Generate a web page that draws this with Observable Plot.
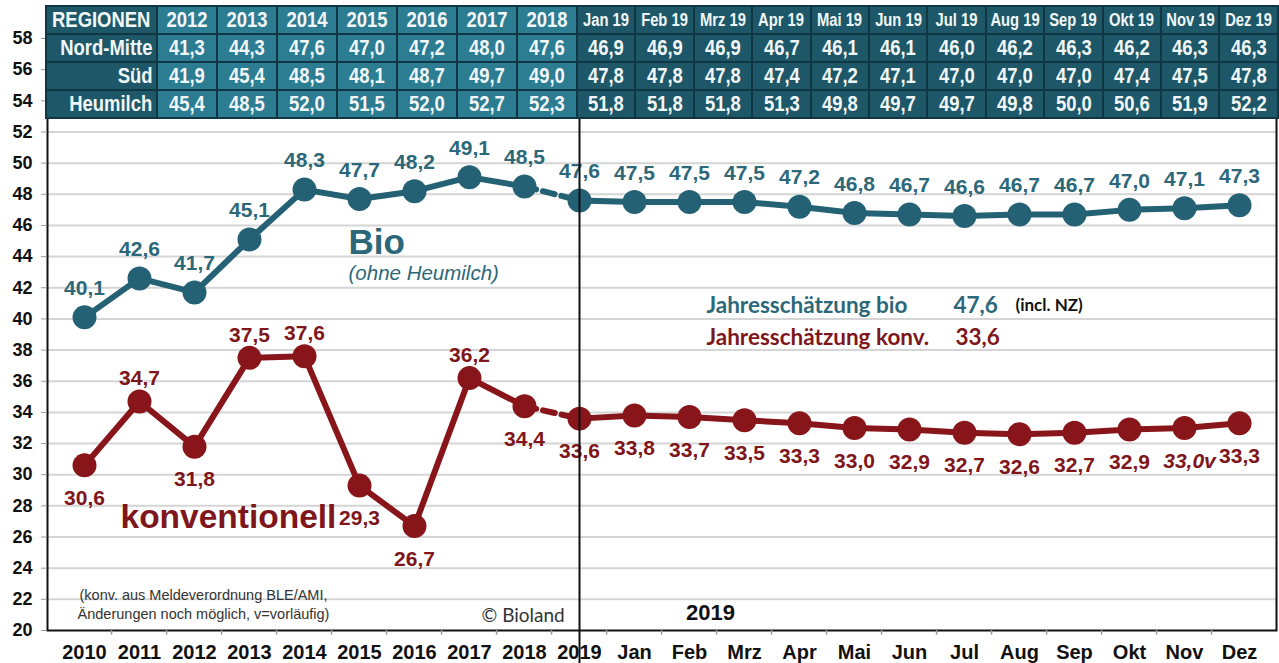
<!DOCTYPE html>
<html>
<head>
<meta charset="utf-8">
<script src="https://cdn.jsdelivr.net/npm/d3@7"></script>
<script src="https://cdn.jsdelivr.net/npm/@observablehq/plot@0.6"></script>
<style>
  body { margin: 0; background: #fff; }
  #wrap { position: relative; width: 1279px; height: 663px; overflow: hidden; background: #fff; }
  #chart { position: absolute; left: 0; top: 0; }
  #tbl { position: absolute; left: 45px; top: 5px; width: 1232px; height: 112px;
         border-collapse: collapse; table-layout: fixed;
         font-family: "Liberation Sans", Arial, sans-serif;
         font-weight: bold; color: #f1f7f9; z-index: 2; }
  #tbl td { border: 2px solid #0f3642; padding: 0; font-size: 22.5px; line-height: 1; white-space: nowrap; }
  #tbl tr { height: 28px; }
  #tbl td.dark { background: #1e5868; }
  #tbl td.light { background: #2c7c92; }
  #tbl td.mon { font-size: 18px; }
  #tbl .cell { display: flex; justify-content: center; align-items: center; overflow: visible; }
  #tbl .cell span { display: inline-block; flex-shrink: 0; transform: scaleX(0.82); transform-origin: center; }
  #tbl td.lab .cell { justify-content: flex-end; padding-right: 4px; }
  #tbl td.lab .cell span { transform-origin: right center; }
  #tbl td.head0 .cell { justify-content: flex-start; padding-left: 5px; }
  #tbl td.head0 .cell span { transform-origin: left center; }
</style>
</head>
<body>
<div id="wrap">
  <div id="chart"></div>
  <table id="tbl"></table>
</div>
<script>
// ---------- data ----------
const categories = ["2010","2011","2012","2013","2014","2015","2016","2017","2018","2019",
  "Jan","Feb","Mrz","Apr","Mai","Jun","Jul","Aug","Sep","Okt","Nov","Dez"];
const bioValues = [40.1,42.6,41.7,45.1,48.3,47.7,48.2,49.1,48.5,47.6,
  47.5,47.5,47.5,47.2,46.8,46.7,46.6,46.7,46.7,47.0,47.1,47.3];
const konvValues = [30.6,34.7,31.8,37.5,37.6,29.3,26.7,36.2,34.4,33.6,
  33.8,33.7,33.5,33.3,33.0,32.9,32.7,32.6,32.7,32.9,33.0,33.3];
const konvNotes = ["","","","","","","","","","",
  "","","","","","","","","","","v",""];

const tableHeader = "REGIONEN";
const tableYears = ["2012","2013","2014","2015","2016","2017","2018"];
const tableMonths = ["Jan 19","Feb 19","Mrz 19","Apr 19","Mai 19","Jun 19","Jul 19","Aug 19","Sep 19","Okt 19","Nov 19","Dez 19"];
const regions = ["Nord-Mitte","Süd","Heumilch"];
const nordMitte = [41.3,44.3,47.6,47.0,47.2,48.0,47.6,46.9,46.9,46.9,46.7,46.1,46.1,46.0,46.2,46.3,46.2,46.3,46.3];
const sued = [41.9,45.4,48.5,48.1,48.7,49.7,49.0,47.8,47.8,47.8,47.4,47.2,47.1,47.0,47.0,47.0,47.4,47.5,47.8];
const heumilch = [45.4,48.5,52.0,51.5,52.0,52.7,52.3,51.8,51.8,51.8,51.3,49.8,49.7,49.7,49.8,50.0,50.6,51.9,52.2];

const yTicks = d3.range(20, 59, 2);
const gridValues = d3.range(22, 59, 2);

// ---------- helpers ----------
const fmt = v => v.toFixed(1).replace(".", ",");
const BIO = "#246174", BIO_T = "#2c6879", KONV = "#871519", KONV_T = "#7e161b";
const W = 1279, H = 663, ML = 47, MR = 3, MT = 38, MB = 33;
const step = (W - ML - MR) / categories.length;
const rows = categories.map((c, i) => ({cat: c, bio: bioValues[i], konv: konvValues[i], note: konvNotes[i]}));
const seg1 = rows.slice(0, 9), seg2 = rows.slice(8, 10), seg3 = rows.slice(9);
const konvAbove = new Set(["2011", "2013", "2014", "2017"]);
const kAbove = rows.filter(d => konvAbove.has(d.cat));
const kBelow = rows.filter(d => !konvAbove.has(d.cat) && !d.note);
const kNote = rows.filter(d => d.note);
const bold = "bold";
const LATO = "Lato, sans-serif";

const chart = Plot.plot({
  width: W, height: H,
  marginLeft: ML, marginRight: MR, marginTop: MT, marginBottom: MB,
  style: {fontFamily: '"Liberation Sans", Arial, sans-serif', background: "transparent", overflow: "visible"},
  x: {type: "point", domain: categories, padding: 0.5, axis: null},
  y: {domain: [20, 58], axis: null},
  marks: [
    Plot.ruleY(gridValues, {stroke: "#d5d5d5", strokeWidth: 2}),
    Plot.frame({stroke: "#111", strokeWidth: 2}),
    Plot.axisY(yTicks, {anchor: "left", tickSize: 6, tickPadding: 9, stroke: "#999", fill: "#111", fontSize: 18, fontWeight: bold, label: null}),
    Plot.axisX({anchor: "bottom", tickSize: 0, tickPadding: 14, fill: "#111", fontSize: 20, fontWeight: bold, label: null}),
    Plot.ruleX(categories.slice(1), {x: d => d, y1: 20, y2: 19.7, dx: -step / 2, stroke: "#999", strokeWidth: 1.5}),
    // lines
    Plot.line(seg1, {x: "cat", y: "bio", stroke: BIO, strokeWidth: 6}),
    Plot.line(seg2, {x: "cat", y: "bio", stroke: BIO, strokeWidth: 6, strokeDasharray: "12,7"}),
    Plot.line(seg3, {x: "cat", y: "bio", stroke: BIO, strokeWidth: 6}),
    Plot.line(seg1, {x: "cat", y: "konv", stroke: KONV, strokeWidth: 6}),
    Plot.line(seg2, {x: "cat", y: "konv", stroke: KONV, strokeWidth: 6, strokeDasharray: "12,7"}),
    Plot.line(seg3, {x: "cat", y: "konv", stroke: KONV, strokeWidth: 6}),
    Plot.dot(rows, {x: "cat", y: "bio", r: 12, fill: BIO}),
    Plot.dot(rows, {x: "cat", y: "konv", r: 12, fill: KONV}),
    // value labels
    Plot.text(rows, {x: "cat", y: "bio", text: d => fmt(d.bio), dy: -29, fill: BIO_T, fontSize: 21, fontWeight: bold}),
    Plot.text(kAbove, {x: "cat", y: "konv", text: d => fmt(d.konv), dy: -23, fill: KONV_T, fontSize: 21, fontWeight: bold}),
    Plot.text(kBelow, {x: "cat", y: "konv", text: d => fmt(d.konv), dy: 33, fill: KONV_T, fontSize: 21, fontWeight: bold}),
    Plot.text(kNote, {x: "cat", y: "konv", text: d => fmt(d.konv) + d.note, dy: 33, dx: 5, fill: KONV_T, fontSize: 21, fontWeight: bold, fontStyle: "italic"}),
    // 2019 separator
    Plot.ruleX(["2019"], {stroke: "#111", strokeWidth: 2, insetBottom: -MB}),
    // annotations
    Plot.text(["Bio"], {x: () => "2015", y: () => 44.9, text: d => d, dx: -11, textAnchor: "start", fill: BIO_T, fontSize: 35, fontWeight: bold}),
    Plot.text(["(ohne Heumilch)"], {x: () => "2015", y: () => 42.9, text: d => d, dx: -11, textAnchor: "start", fill: BIO_T, fontSize: 20.5, fontStyle: "italic"}),
    Plot.text(["konventionell"], {x: () => "2011", y: () => 27.3, text: d => d, dx: -19, textAnchor: "start", fill: KONV_T, fontSize: 33.5, fontWeight: bold}),
    Plot.text(["Jahresschätzung bio"], {x: () => "Feb", y: () => 40.86, text: d => d, dx: 17, textAnchor: "start", fill: BIO_T, fontSize: 22.5, fontWeight: bold, fontFamily: LATO}),
    Plot.text([fmt(bioValues[9])], {x: () => "Jul", y: () => 40.86, text: d => d, dx: -11, textAnchor: "start", fill: BIO_T, fontSize: 22.5, fontWeight: bold, fontFamily: LATO}),
    Plot.text(["(incl. NZ)"], {x: () => "Aug", y: () => 40.86, text: d => d, dx: -4, textAnchor: "start", fill: "#111", fontSize: 17, fontWeight: bold, fontFamily: LATO}),
    Plot.text(["Jahresschätzung konv."], {x: () => "Feb", y: () => 38.8, text: d => d, dx: 17, textAnchor: "start", fill: KONV_T, fontSize: 22.5, fontWeight: bold, fontFamily: LATO}),
    Plot.text([fmt(konvValues[9])], {x: () => "Jul", y: () => 38.8, text: d => d, dx: -9, textAnchor: "start", fill: KONV_T, fontSize: 22.5, fontWeight: bold, fontFamily: LATO}),
    Plot.text(["(konv. aus Meldeverordnung BLE/AMI,\nÄnderungen noch möglich, v=vorläufig)"], {x: () => "2012", y: () => 21.73, text: d => d, dx: 9, textAnchor: "middle", lineHeight: 1.3, fill: "#333", fontSize: 14.5}),
    Plot.text(["© Bioland"], {x: () => "2017", y: () => 20.96, text: d => d, dx: 12, textAnchor: "start", fill: "#333", fontSize: 19, fontFamily: LATO}),
    Plot.text(["2019"], {x: () => "Feb", y: () => 21.1, text: d => d, dx: 21, textAnchor: "middle", fill: "#111", fontSize: 22, fontWeight: bold})
  ]
});
document.getElementById("chart").appendChild(chart);

// ---------- table ----------
const tbl = d3.select("#tbl");
const cg = tbl.append("colgroup");
cg.append("col").style("width", "111px");
tableYears.forEach(() => cg.append("col").style("width", "60px"));
tableMonths.forEach(() => cg.append("col").style("width", (701 / 12) + "px"));
const addCell = (tr, cls, txt) => tr.append("td").attr("class", cls).append("div").attr("class", "cell").append("span").text(txt);
const hr = tbl.append("tr");
addCell(hr, "dark head0", tableHeader);
tableYears.forEach(y => addCell(hr, "light", y));
tableMonths.forEach(m => addCell(hr, "dark mon", m));
const series = [nordMitte, sued, heumilch];
regions.forEach((r, k) => {
  const tr = tbl.append("tr");
  addCell(tr, "dark lab", r);
  series[k].forEach((v, j) => addCell(tr, j < tableYears.length ? "light" : "dark", fmt(v)));
});
</script>
</body>
</html>
